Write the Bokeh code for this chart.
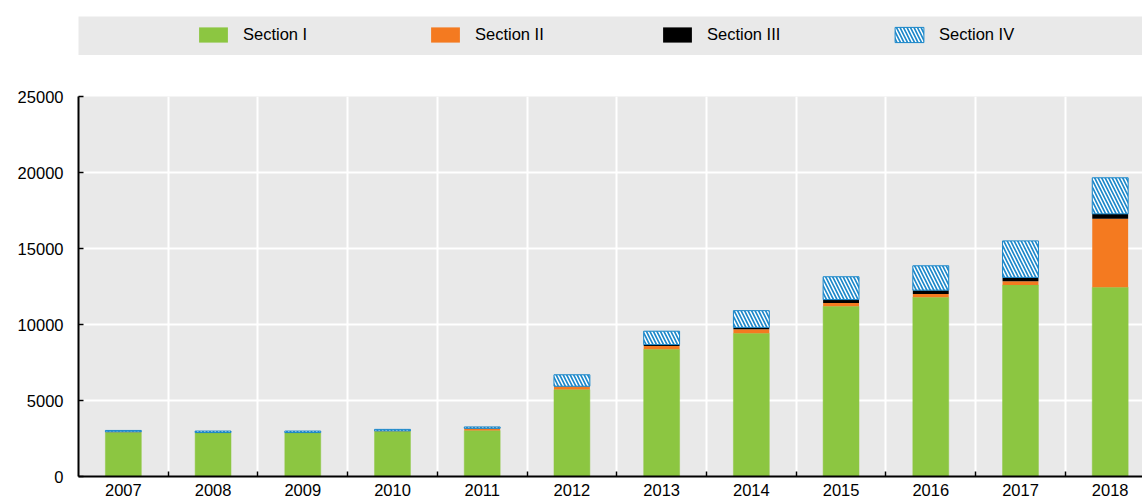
from bokeh.plotting import figure
from bokeh.models import ColumnDataSource, FixedTicker, Range1d, Legend, LegendItem
from bokeh.layouts import column
from bokeh.transform import stack
from bokeh.embed import file_html
from bokeh.resources import INLINE

years = [2007, 2008, 2009, 2010, 2011, 2012, 2013, 2014, 2015, 2016, 2017, 2018]
section1 = [2910, 2880, 2880, 2980, 3020, 5720, 8370, 9420, 11200, 11800, 12600, 12450]
section2 = [30, 10, 10, 20, 150, 200, 220, 260, 220, 200, 240, 4500]
section3 = [0, 0, 0, 0, 0, 20, 90, 130, 220, 260, 260, 330]
section4 = [90, 100, 100, 100, 90, 750, 880, 1100, 1500, 1600, 2400, 2370]
series_names = ["Section I", "Section II", "Section III", "Section IV"]
y_ticks = [0, 5000, 10000, 15000, 20000, 25000]

FONT = "Liberation Sans"
FS = "16.5px"
GREEN = "#8cc641"
ORANGE = "#f47a20"
BLACK = "#000000"
BLUE = "#1b87c9"
BG = "#e9e9e9"
HATCH = dict(hatch_pattern="\\", hatch_color="white", hatch_scale=7, hatch_weight=1.5)

source = ColumnDataSource(dict(year=years, s1=section1, s2=section2, s3=section3, s4=section4))

# ---------- main chart ----------
p = figure(width=1142, height=447, output_backend="svg", toolbar_location=None,
           x_range=Range1d(2006.5, 2018.36), y_range=Range1d(0, 25000),
           min_border_left=75, min_border_right=0, min_border_top=41, min_border_bottom=26)
p.background_fill_color = BG
p.outline_line_color = None

W = 0.4
p.vbar(x="year", bottom=0, top=stack("s1"), width=W, source=source,
       fill_color=GREEN, line_color=GREEN, line_width=0.5)
p.vbar(x="year", bottom=stack("s1"), top=stack("s1", "s2"), width=W, source=source,
       fill_color=ORANGE, line_color=None)
p.vbar(x="year", bottom=stack("s1", "s2"), top=stack("s1", "s2", "s3"), width=W, source=source,
       fill_color=BLACK, line_color=None)
p.vbar(x="year", bottom=stack("s1", "s2", "s3"), top=stack("s1", "s2", "s3", "s4"), width=W,
       source=source, fill_color=BLUE, line_color=BLUE, line_width=1, **HATCH)

boundaries = [y + 0.5 for y in years[:-1]]
p.xaxis.ticker = FixedTicker(ticks=years, minor_ticks=boundaries)
p.xaxis.major_tick_in = 0
p.xaxis.major_tick_out = 0
p.xaxis.minor_tick_in = 5
p.xaxis.minor_tick_out = 0
p.xaxis.minor_tick_line_color = "black"
p.xaxis.minor_tick_line_width = 1.5
p.xaxis.axis_line_color = "black"
p.xaxis.axis_line_width = 2
p.xaxis.major_label_standoff = 7

p.yaxis.ticker = FixedTicker(ticks=y_ticks)
p.yaxis.major_tick_in = 5
p.yaxis.major_tick_out = 0
p.yaxis.minor_tick_line_color = None
p.yaxis.axis_line_color = "black"
p.yaxis.axis_line_width = 2
p.yaxis.major_tick_line_width = 1.5
p.yaxis.major_label_standoff = 15

for ax in (p.xaxis, p.yaxis):
    ax.major_label_text_font = FONT
    ax.major_label_text_font_size = FS
    ax.major_label_text_color = "black"

p.xgrid.ticker = FixedTicker(ticks=boundaries)
p.xgrid.grid_line_color = "white"
p.xgrid.grid_line_width = 2
p.ygrid.grid_line_color = "white"
p.ygrid.grid_line_width = 2

# ---------- legend band ----------
top = figure(width=1142, height=55, output_backend="svg", toolbar_location=None,
             x_range=Range1d(0, 1), y_range=Range1d(0, 1),
             min_border_left=78, min_border_right=0, min_border_top=16, min_border_bottom=0)
top.background_fill_color = BG
top.outline_line_color = None
top.xaxis.visible = False
top.yaxis.visible = False
top.grid.visible = False

hidden = ColumnDataSource(dict(x=[-10], t=[-10]))
r1 = top.vbar(x="x", top="t", width=0.1, source=hidden, fill_color=GREEN, line_color=None)
r2 = top.vbar(x="x", top="t", width=0.1, source=hidden, fill_color=ORANGE, line_color=None)
r3 = top.vbar(x="x", top="t", width=0.1, source=hidden, fill_color=BLACK, line_color=None)
r4 = top.vbar(x="x", top="t", width=0.1, source=hidden, fill_color=BLUE, line_color=BLUE, **HATCH)

legend = Legend(items=[LegendItem(label=n, renderers=[r]) for n, r in zip(series_names, [r1, r2, r3, r4])],
                orientation="horizontal", location=(117, 11), padding=0, margin=0,
                glyph_width=36, glyph_height=19, label_height=19, label_width=100,
                label_standoff=12, spacing=84,
                background_fill_alpha=0, border_line_alpha=0,
                label_text_font=FONT, label_text_font_size=FS, label_text_color="black")
top.add_layout(legend, "center")

layout = column(top, p, spacing=0)
open("out.html", "w").write(file_html(layout, INLINE))
